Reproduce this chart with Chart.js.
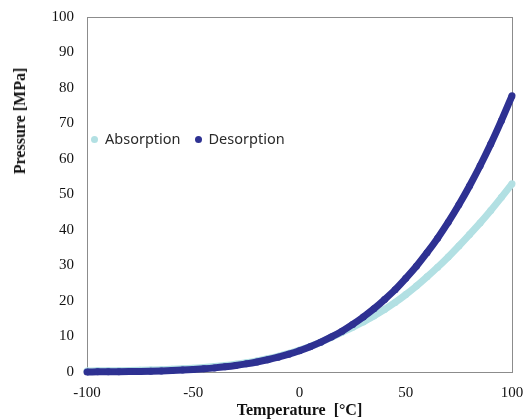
<!DOCTYPE html>
<html>
<head>
<meta charset="utf-8">
<script src="https://cdn.jsdelivr.net/npm/chart.js@4"></script>
<style>
  html, body { margin: 0; padding: 0; background: #fff; }
  #wrap { position: relative; width: 524px; height: 420px; }
  #legend { position: absolute; left: 91px; top: 128px; font: 14.5px "Noto Sans", sans-serif; color: #2a2a2a; white-space: nowrap; }
  #legend span.dot { display: inline-block; width: 7px; height: 7px; border-radius: 50%; vertical-align: middle; margin: 0 7px 2px 0; }
  #legend span.item { margin-right: 14px; }
  #ytitle { position: absolute; left: 20px; top: 121px; transform: translate(-50%, -50%) rotate(-90deg); font: bold 16px "Liberation Serif", serif; color: #111; white-space: nowrap; }
</style>
</head>
<body>
<div id="wrap">
  <canvas id="chart" width="524" height="420"></canvas>
  <div id="legend"></div>
  <div id="ytitle">Pressure [MPa]</div>
</div>
<script>
const temps = [-100, -95, -90, -85, -80, -75, -70, -65, -60, -55, -50, -45, -40, -35, -30, -25, -20, -15, -10, -5,
    0, 5, 10, 15, 20, 25, 30, 35, 40, 45, 50, 55, 60, 65, 70, 75, 80, 85, 90, 95, 100];

const absorption = [0.3, 0.32, 0.35, 0.38, 0.42, 0.48, 0.55, 0.64, 0.76, 0.90, 1.07, 1.28, 1.53, 1.83, 2.19, 2.62, 3.13, 3.72, 4.42, 5.22,
    6.15, 7.2, 8.4, 9.8, 11.2, 12.6, 14.1, 15.8, 17.6, 19.6, 21.8, 24.2, 26.8, 29.5, 32.4, 35.5, 38.7, 42.0, 45.5, 49.2, 53.0];

const desorption = [0.02, 0.04, 0.06, 0.08, 0.11, 0.16, 0.22, 0.30, 0.41, 0.54, 0.70, 0.91, 1.16, 1.47, 1.84, 2.29, 2.82, 3.44, 4.17, 5.02,
    6.00, 7.13, 8.41, 9.87, 11.5, 13.4, 15.5, 17.8, 20.4, 23.2, 26.4, 29.8, 33.6, 37.7, 42.2, 47.1, 52.4, 58.1, 64.2, 70.8, 77.8];

const seriesNames = ['Absorption', 'Desorption'];
const seriesColors = ['#b2e0e3', '#2e3192'];

function toPoints(ys) {
    return temps.map((t, i) => ({ x: t, y: ys[i] }));
}

const frame = {
    id: 'frame',
    beforeDatasetsDraw(chart) {
        const { ctx, chartArea: a } = chart;
        ctx.save();
        ctx.strokeStyle = '#8c8c8c';
        ctx.lineWidth = 1;
        ctx.strokeRect(Math.round(a.left) + 0.5, Math.round(a.top) + 0.5, Math.round(a.right - a.left), Math.round(a.bottom - a.top));
        ctx.restore();
    }
};

const serif = "'Liberation Serif', 'Times New Roman', serif";

const chart = new Chart(document.getElementById('chart'), {
    type: 'scatter',
    data: {
        datasets: [
            {
                label: seriesNames[0],
                data: toPoints(absorption),
                showLine: true,
                borderColor: seriesColors[0],
                backgroundColor: seriesColors[0],
                borderWidth: 7,
                pointRadius: 3.5,
                pointBorderWidth: 0,
                cubicInterpolationMode: 'monotone',
                order: 2,
                clip: false,
            },
            {
                label: seriesNames[1],
                data: toPoints(desorption),
                showLine: true,
                borderColor: seriesColors[1],
                backgroundColor: seriesColors[1],
                borderWidth: 7,
                pointRadius: 3.5,
                pointBorderWidth: 0,
                cubicInterpolationMode: 'monotone',
                order: 1,
                clip: false,
            },
        ]
    },
    options: {
        responsive: false,
        animation: false,
        layout: { padding: { top: 17, right: 12, bottom: 0, left: 0 } },
        plugins: {
            legend: { display: false },
            tooltip: { enabled: false },
        },
        scales: {
            x: {
                type: 'linear',
                min: -100,
                max: 100,
                grid: { display: false, drawTicks: false },
                border: { display: false },
                ticks: { stepSize: 50, padding: 12, color: '#111', font: { family: serif, size: 15 } },
                title: { display: true, text: 'Temperature  [°C]', color: '#111', padding: { top: 0, bottom: 0 }, font: { family: serif, size: 16, weight: 'bold' } },
                afterFit: s => { s.height = 48; s.paddingLeft = 0; s.paddingRight = 0; },
            },
            y: {
                min: 0,
                max: 100,
                grid: { display: false, drawTicks: false },
                border: { display: false },
                ticks: { stepSize: 10, padding: 13, color: '#111', font: { family: serif, size: 15 } },
                afterFit: s => { s.width = 87; s.paddingTop = 0; s.paddingBottom = 0; },
            }
        }
    },
    plugins: [frame]
});

const legend = document.getElementById('legend');
chart.data.datasets.forEach(ds => {
    const item = document.createElement('span');
    item.className = 'item';
    const dot = document.createElement('span');
    dot.className = 'dot';
    dot.style.background = ds.backgroundColor;
    item.appendChild(dot);
    item.appendChild(document.createTextNode(ds.label));
    legend.appendChild(item);
});
</script>
</body>
</html>
